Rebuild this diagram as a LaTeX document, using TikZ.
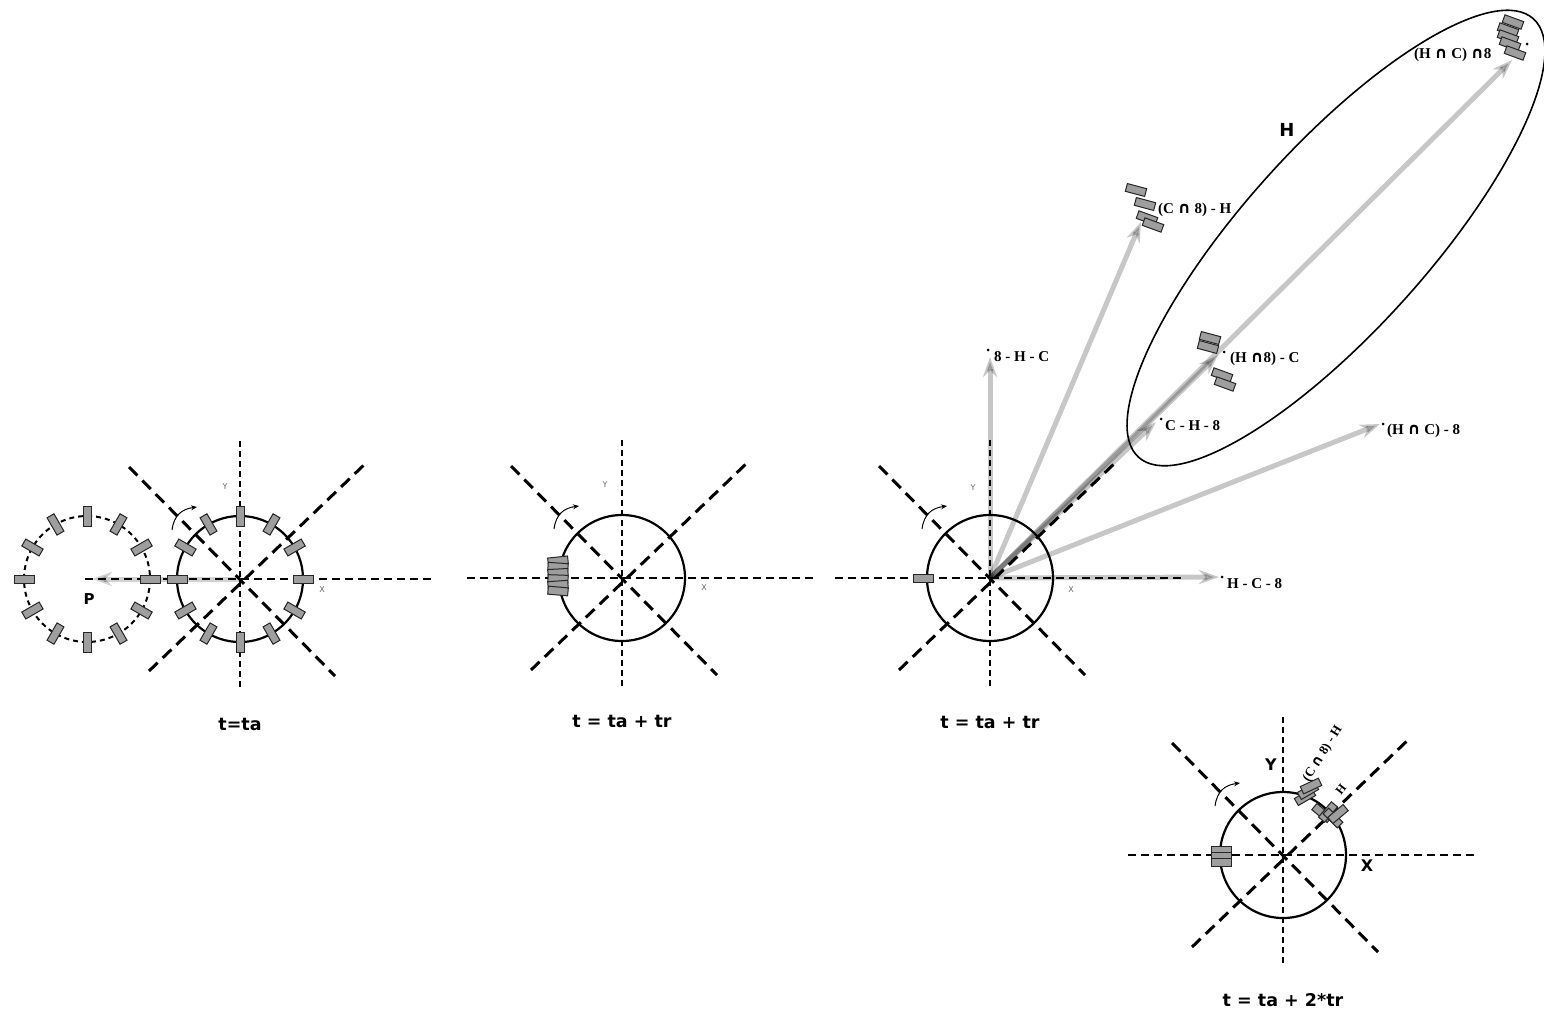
\documentclass[tikz,border=0pt]{standalone}
\usepackage{fontspec}
\setmainfont{Liberation Serif}
\newfontfamily\djs{DejaVu Sans}
\usetikzlibrary{arrows.meta}
\newcommand\capsym{{\djs\bfseries\fontsize{16}{16}\selectfont ∩}}
\newcommand\capsmall{{\djs\bfseries\fontsize{14}{14}\selectfont ∩}}
\newcommand\rectat[3]{\begin{scope}[shift={(#1,#2)},rotate=#3]\draw[rect] (-10,-4) rectangle (10,4);\end{scope}}
\newcommand\ringboxes[3]{\foreach \a in {0,30,...,330}{\begin{scope}[shift={(#1,#2)},rotate=\a]\draw[rect] (#3-10,-4) rectangle (#3+10,4);\end{scope}}}
\newcommand\frameat[2]{%
\begin{scope}[shift={(#1,#2)}]
\draw[vaxis] (0,-138) -- (0,110);
\draw[haxis] (-155,0) -- (192,0);
\draw[daxis] (-111,-112) -- (95,97);
\draw[daxis] (-91,92) -- (126,-116);
\draw[orbit] (0,0) circle[radius=63];
\draw[rotarr] (-68,-49) .. controls (-66,-64) and (-58,-70) .. (-43,-72);
\end{scope}}
\begin{document}
\begin{tikzpicture}[x=1pt,y=-1pt,
  vaxis/.style={line width=1.8pt, dash pattern=on 6pt off 4pt},
  haxis/.style={line width=2.2pt, dash pattern=on 8pt off 5pt},
  daxis/.style={line width=3pt, dash pattern=on 12pt off 7pt},
  orbit/.style={line width=2.2pt},
  rect/.style={fill=black!38, draw=black!85, line width=1pt},
  garrow/.style={draw=black, opacity=0.22, line width=5pt, -{Stealth[length=20pt,width=14pt]}},
  rotarr/.style={line width=1pt, -{Stealth[length=6pt,width=5pt]}},
  setlab/.style={font=\fontsize{15}{15}\selectfont\bfseries, inner sep=0pt, anchor=west},
  ttl/.style={font=\djs\bfseries\fontsize{17.5}{17.5}\selectfont, inner sep=0pt},
  axlab/.style={font=\djs\fontsize{8}{8}\selectfont, text=black!60, inner sep=0pt},
  bigaxlab/.style={font=\djs\bfseries\fontsize{16}{16}\selectfont, inner sep=0pt},
  dot/.style={circle, fill=black, inner sep=0pt, minimum size=3pt},
]
\useasboundingbox (0,0) rectangle (1544,1013);

% ---------------- panel 1 ----------------
\coordinate (c1) at (240,579);
\coordinate (p) at (87,579);
\coordinate (ptip) at (92,579);
\draw[garrow, opacity=0.18] (c1) -- (ptip);
\frameat{240}{579}
\ringboxes{240}{579}{63}
\draw[line width=2pt, dash pattern=on 5pt off 4pt] (p) circle[radius=63];
\ringboxes{87}{579}{63}
\node[font=\djs\bfseries\fontsize{15}{15}\selectfont, inner sep=0pt] (plab) at (89,599) {P};
\node[axlab] (y1) at (225,487) {Y};
\node[axlab] (x1) at (322,590) {X};
\node[ttl] (t1) at (240,724) {t=ta};

% ---------------- panel 2 ----------------
\coordinate (c2) at (622,578);
\frameat{622}{578}
\foreach \yy/\rr in {561/6,567/-4,573/3,579/-2,585/4,591/-5}{\rectat{558}{\yy}{\rr}}
\node[axlab] (y2) at (605,485) {Y};
\node[axlab] (x2) at (704,588) {X};
\node[ttl] (t2) at (622,721) {t = ta + tr};

% ---------------- panel 3 ----------------
\coordinate (c3) at (990,578);
\coordinate (a1) at (990,357);
\coordinate (a2) at (1141,222);
\coordinate (a3) at (1156,422);
\coordinate (a4) at (1218,355);
\coordinate (a5) at (1512,60);
\coordinate (a6) at (1380,424);
\coordinate (a7) at (1219,577);
\foreach \t in {a1,a2,a3,a4,a5,a6,a7}{\draw[garrow] (c3) -- (\t);}
\frameat{990}{578}
\rectat{923}{578}{0}
\node[axlab] (y3) at (973,488) {Y};
\node[axlab] (x3) at (1071,590) {X};
\node[ttl] (t3) at (990,722) {t = ta + tr};

% ellipse H
\coordinate (ec) at (1336,238);
\draw[line width=1.6pt, rotate around={48:(ec)}] (ec) ellipse [x radius=295, y radius=92];
\node[font=\djs\bfseries\fontsize{18}{18}\selectfont, inner sep=0pt] (hlab) at (1287,130) {H};

% box clusters
\rectat{1136}{190}{-15}
\rectat{1145}{204}{-15}
\rectat{1147}{218}{-20}
\rectat{1153}{225}{-20}
\rectat{1513}{22}{-20}
\rectat{1508}{30}{-20}
\rectat{1508}{37}{-20}
\rectat{1510}{44}{-20}
\rectat{1515}{53}{-20}
\rectat{1210}{338}{-15}
\rectat{1208}{347}{-15}
\rectat{1222}{375}{-20}
\rectat{1225}{384}{-20}

% dots and labels
\node[dot] (d1) at (988,350) {};
\node[setlab] (l1) at (994,357) {8 - H - C};
\node[setlab] (l2) at (1158,210) {(C \capsym\ 8) - H};
\node[dot] (d3) at (1224,352) {};
\node[setlab] (l3) at (1230,359) {(H \capsym8) - C};
\node[dot] (d4) at (1161,419) {};
\node[setlab] (l4) at (1165,426) {C - H - 8};
\node[dot] (d5) at (1383,424) {};
\node[setlab] (l5) at (1387,431) {(H \capsym\ C) - 8};
\node[dot] (d6) at (1222,577) {};
\node[setlab] (l6) at (1227,584) {H - C - 8};
\node[dot] (d7) at (1527,44) {};
\node[setlab] (l7) at (1414,55) {(H \capsym\ C) \capsym8};

% ---------------- panel 4 ----------------
\coordinate (c4) at (1283,855);
\frameat{1283}{855}
\rectat{1221}{850}{0}
\rectat{1221}{856}{0}
\rectat{1221}{862}{0}
\rectat{1305}{797}{30}
\rectat{1308}{791}{30}
\rectat{1311}{786}{25}
\rectat{1322}{813}{-40}
\rectat{1328}{812}{50}
\rectat{1333}{818}{-45}
\rectat{1338}{814}{40}
\node[bigaxlab] (y4) at (1271,765) {Y};
\node[bigaxlab] (x4) at (1367,866) {X};
\node[font=\fontsize{13}{13}\selectfont\bfseries, inner sep=0pt, anchor=west, rotate=58] (r1) at (1306,781) {(C \capsmall\ 8) - H};
\node[font=\fontsize{12}{12}\selectfont\bfseries, rotate=52, inner sep=0pt] (r2) at (1341,789) {H};
\node[ttl] (t4) at (1283,1000) {t = ta + 2*tr};
\end{tikzpicture}
\end{document}
